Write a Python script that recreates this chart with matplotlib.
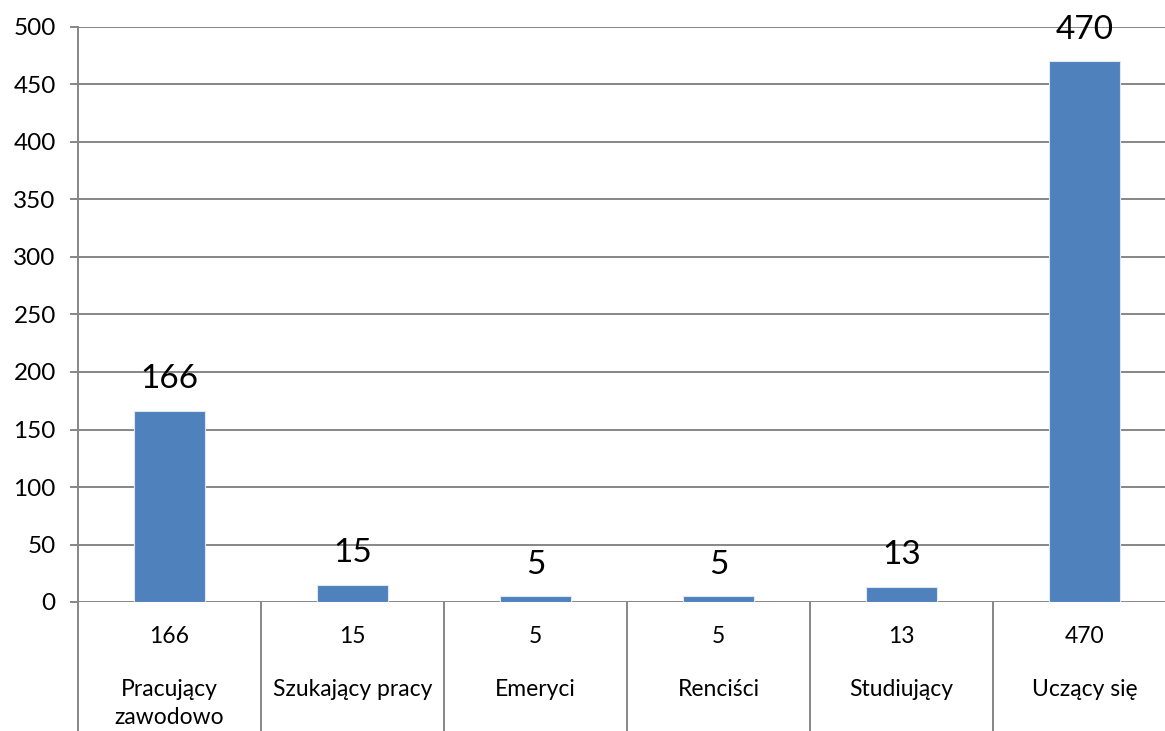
import matplotlib
matplotlib.use("Agg")
import matplotlib.pyplot as plt
import numpy as np

# dane
categories = ["Pracujący\nzawodowo", "Szukający pracy", "Emeryci", "Renciści", "Studiujący", "Uczący się"]
values = [166, 15, 5, 5, 13, 470]
yticks = [0, 50, 100, 150, 200, 250, 300, 350, 400, 450, 500]

plt.rcParams['font.family'] = ['Lato', 'DejaVu Sans']

W, H = 1165, 731
fig = plt.figure(figsize=(W / 100, H / 100), dpi=100)
# plot area in pixels: left 78, right 1176 (past the image edge), top 27, bottom 602
ax = fig.add_axes([78 / W, (H - 602) / H, (1176 - 78) / W, (602 - 27) / H])

grid_col = "#868686"
x = np.arange(len(categories))
ax.set_xlim(-0.5, len(categories) - 0.5)
ax.set_ylim(0, 500)

ax.set_yticks(yticks)
ax.yaxis.grid(True, color=grid_col, linewidth=1.4)
ax.set_axisbelow(True)
ax.tick_params(axis='y', length=6, width=1.4, color=grid_col, labelsize=17.5, pad=10, labelcolor='black')
ax.set_xticks([])

for s in ["top", "right", "bottom"]:
    ax.spines[s].set_visible(False)
ax.spines["left"].set_color(grid_col)
ax.spines["left"].set_linewidth(1.4)

bars = ax.bar(x, values, width=0.39, color="#4F81BD", edgecolor="#dfe6ef", linewidth=0.8, zorder=3)

# etykiety nad słupkami
for b, v in zip(bars, values):
    ax.annotate(str(v), (b.get_x() + b.get_width() / 2, v), xytext=(0, 12),
                textcoords="offset points", ha="center", va="bottom", fontsize=24)

# tabela danych pod wykresem
bounds = np.arange(len(categories) + 1) - 0.5
ax.vlines(bounds, -120, 0, colors=grid_col, linewidth=1.4, clip_on=False)
for i, (c, v) in enumerate(zip(categories, values)):
    ax.text(i, -30, str(v), ha="center", va="center", fontsize=16.5, clip_on=False)
    for j, line in enumerate(c.split("\n")):
        ax.text(i, -76.5 - j * 24.3, line, ha="center", va="center", fontsize=16.5, clip_on=False)

fig.savefig("out.png", dpi=100)
